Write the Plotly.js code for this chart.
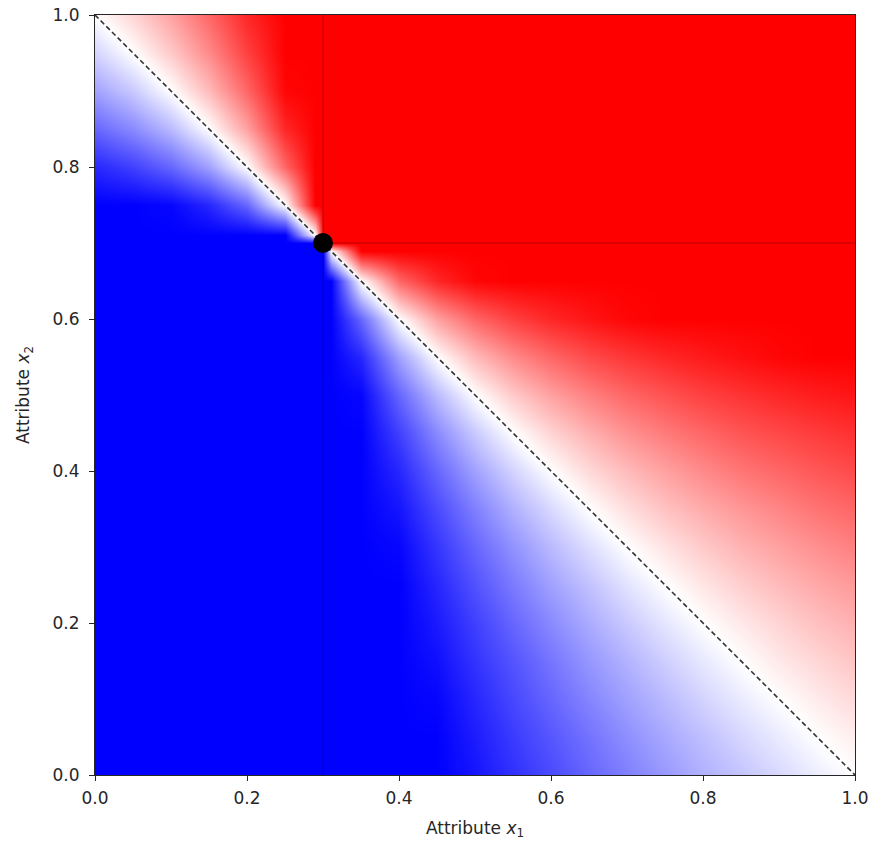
<!DOCTYPE html>
<html>
<head>
<meta charset="utf-8">
<script src="https://cdn.plot.ly/plotly-3.0.1.min.js"></script>
<style>html,body{margin:0;padding:0;background:#fff;}#plot{width:871px;height:843px;}</style>
</head>
<body>
<div id="plot"></div>
<script>
// Grid coordinates (cell centres) of the colour field
const xGrid = [0,0.05,0.1,0.15,0.2,0.25,0.29,0.3,0.31,0.35,0.4,0.45,0.5,0.55,0.6,0.65,0.7,0.75,0.8,0.85,0.9,0.95,1];
const yGrid = [0,0.05,0.1,0.15,0.2,0.25,0.3,0.35,0.4,0.45,0.5,0.55,0.6,0.65,0.69,0.7,0.71,0.75,0.8,0.85,0.9,0.95,1];

// Field values (-1 = blue, 0 = white, 1 = red); rows go from y=0 to y=1
const fieldRows = [
  [-1,-1,-1,-1,-1,-1,-1,-1,-1, -1,-1,-1,-0.92,-0.81,-0.71,-0.60,-0.50,-0.40,-0.31,-0.23,-0.15,-0.07,0],
  [-1,-1,-1,-1,-1,-1,-1,-1,-1, -1,-1,-1,-0.89,-0.77,-0.66,-0.55,-0.44,-0.34,-0.25,-0.16,-0.08,0,0.07],
  [-1,-1,-1,-1,-1,-1,-1,-1,-1, -1,-1,-0.98,-0.85,-0.72,-0.60,-0.48,-0.37,-0.27,-0.17,-0.08,0,0.08,0.15],
  [-1,-1,-1,-1,-1,-1,-1,-1,-1, -1,-1,-0.94,-0.80,-0.67,-0.54,-0.41,-0.30,-0.19,-0.09,0,0.09,0.16,0.23],
  [-1,-1,-1,-1,-1,-1,-1,-1,-1, -1,-1,-0.90,-0.75,-0.60,-0.46,-0.33,-0.21,-0.10,0,0.09,0.17,0.25,0.31],
  [-1,-1,-1,-1,-1,-1,-1,-1,-1, -1,-1,-0.85,-0.68,-0.52,-0.37,-0.24,-0.11,0,0.10,0.19,0.27,0.34,0.40],
  [-1,-1,-1,-1,-1,-1,-1,-1,-1, -1,-0.98,-0.79,-0.60,-0.43,-0.27,-0.13,0,0.11,0.21,0.30,0.37,0.44,0.50],
  [-1,-1,-1,-1,-1,-1,-1,-1,-1, -1,-0.92,-0.71,-0.50,-0.31,-0.15,0,0.13,0.24,0.33,0.41,0.48,0.55,0.60],
  [-1,-1,-1,-1,-1,-1,-1,-1,-1, -1,-0.85,-0.60,-0.37,-0.17,0,0.15,0.27,0.37,0.46,0.54,0.60,0.66,0.71],
  [-1,-1,-1,-1,-1,-1,-1,-1,-1, -1,-0.75,-0.46,-0.21,0,0.17,0.31,0.43,0.52,0.60,0.67,0.72,0.77,0.81],
  [-1,-1,-1,-1,-1,-1,-1,-1,-1, -0.98,-0.60,-0.27,0,0.21,0.37,0.50,0.60,0.68,0.75,0.80,0.85,0.89,0.92],
  [-1,-1,-1,-1,-1,-1,-1,-1,-1, -0.85,-0.37,0,0.27,0.46,0.60,0.71,0.79,0.85,0.90,0.94,0.98,1,1],
  [-1,-1,-1,-1,-1,-1,-1,-1,-1, -0.60,0,0.37,0.60,0.75,0.85,0.92,0.98,1,1,1,1,1,1],
  [-1,-1,-1,-1,-1,-1,-1,-1,-1, 0,0.60,0.85,0.98,1,1,1,1,1,1,1,1,1,1],
  [-1,-1,-1,-1,-1,-1,-1,-1,0, 1,1,1,1,1,1,1,1,1,1,1,1,1,1],
  [-1,-1,-1,-1,-1,-1,-1,0,1, 1,1,1,1,1,1,1,1,1,1,1,1,1,1],
  [-1,-1,-1,-1,-1,-1,0,1,1, 1,1,1,1,1,1,1,1,1,1,1,1,1,1],
  [-1,-1,-0.98,-0.85,-0.60,0,1,1,1, 1,1,1,1,1,1,1,1,1,1,1,1,1,1],
  [-0.85,-0.75,-0.60,-0.37,0,0.60,1,1,1, 1,1,1,1,1,1,1,1,1,1,1,1,1,1],
  [-0.60,-0.46,-0.27,0,0.37,0.85,1,1,1, 1,1,1,1,1,1,1,1,1,1,1,1,1,1],
  [-0.37,-0.21,0,0.27,0.60,0.98,1,1,1, 1,1,1,1,1,1,1,1,1,1,1,1,1,1],
  [-0.17,0,0.21,0.46,0.75,1,1,1,1, 1,1,1,1,1,1,1,1,1,1,1,1,1,1],
  [0,0.17,0.37,0.60,0.85,1,1,1,1, 1,1,1,1,1,1,1,1,1,1,1,1,1,1]
];

// Reference point and boundary line
const pointX = [0.3];
const pointY = [0.7];
const boundaryX = [0, 1];
const boundaryY = [1, 0];

const tickVals = [0, 0.2, 0.4, 0.6, 0.8, 1.0];
const tickText = ['0.0', '0.2', '0.4', '0.6', '0.8', '1.0'];

const FONT = 'DejaVu Sans, Verdana, sans-serif';
const TXT = '#262626';

const traces = [
  {
    type: 'heatmap',
    x: xGrid, y: yGrid, z: fieldRows,
    zmin: -1, zmax: 1,
    zsmooth: 'best',
    colorscale: [[0, 'rgb(0,0,255)'], [0.5, 'rgb(255,255,255)'], [1, 'rgb(255,0,0)']],
    showscale: false,
    hoverinfo: 'skip'
  },
  {
    type: 'scatter', mode: 'lines',
    x: boundaryX, y: boundaryY,
    line: {color: '#333', width: 1.6, dash: '5px,3px'},
    hoverinfo: 'skip', showlegend: false
  },
  {
    type: 'scatter', mode: 'markers',
    x: pointX, y: pointY,
    marker: {color: '#000', size: 20},
    showlegend: false
  }
];

const axisCommon = {
  range: [0, 1],
  tickvals: tickVals,
  ticktext: tickText,
  ticks: 'outside', ticklen: 5, tickwidth: 1, tickcolor: TXT,
  showline: true, linecolor: TXT, linewidth: 1, mirror: true,
  showgrid: false, zeroline: false,
  tickfont: {family: FONT, size: 17, color: TXT}
};

const layout = {
  width: 871, height: 843,
  margin: {l: 95, r: 16, t: 15, b: 68},
  paper_bgcolor: '#fff', plot_bgcolor: '#fff',
  showlegend: false,
  xaxis: Object.assign({}, axisCommon, {
    ticklabelstandoff: 3,
    title: {text: 'Attribute <i>x</i><sub>1</sub>', font: {family: FONT, size: 17, color: TXT}, standoff: 14}
  }),
  yaxis: Object.assign({}, axisCommon, {
    ticklabelstandoff: 6,
    title: {text: 'Attribute <i>x</i><sub>2</sub>', font: {family: FONT, size: 17, color: TXT}, standoff: 18}
  }),
  shapes: [
    {type: 'line', xref: 'x', yref: 'paper', x0: pointX[0], x1: pointX[0], y0: 0, y1: 1,
     line: {color: 'rgba(0,0,0,0.13)', width: 2}, layer: 'above'},
    {type: 'line', xref: 'x', yref: 'y', x0: pointX[0], x1: 1, y0: pointY[0], y1: pointY[0],
     line: {color: 'rgba(0,0,0,0.13)', width: 2}, layer: 'above'}
  ]
};

Plotly.newPlot('plot', traces, layout, {displayModeBar: false, staticPlot: true});
</script>
</body>
</html>
